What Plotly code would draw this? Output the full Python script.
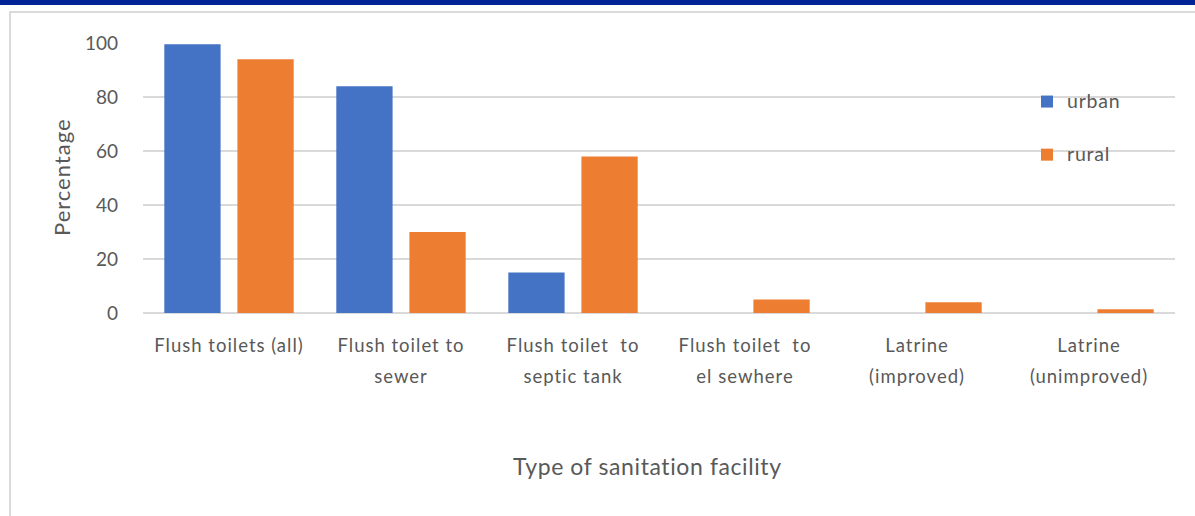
import plotly.graph_objects as go

# Share of households by type of sanitation facility
categories = [
    "Flush toilets (all)",
    "Flush toilet to<br>sewer",
    "Flush toilet  to<br>septic tank",
    "Flush toilet  to<br>el sewhere",
    "Latrine<br>(improved)",
    "Latrine<br>(unimproved)",
]
urban = [99.5, 84, 15, 0, 0, 0]
rural = [94, 30, 58, 5, 4, 1.4]
y_ticks = [0, 20, 40, 60, 80, 100]

W, H = 1195, 516
TEXT = "#595959"
FONT = "Lato"

# plot area in pixels
px_left, px_right, px_top, px_bottom = 143, 1175, 43, 313


def fx(px):
    return px / W


def fy(py):
    return 1 - py / H


def styled(t, size, spacing):
    return f"<span style='font-size:{size}px;letter-spacing:{spacing}px'>{t}</span>"


def label(t):
    # wrap each line so the text is small while the line pitch stays wide
    return "<br>".join(styled(p, 18.5, 1) for p in t.split("<br>"))


fig = go.Figure()
fig.add_trace(go.Bar(name=styled("urban", 19.5, 0.8), x=categories, y=urban,
                     marker_color="#4472C4", marker_line_width=0, legendgroup="u"))
fig.add_trace(go.Bar(name=styled("rural", 19.5, 0.8), x=categories, y=rural,
                     marker_color="#ED7D31", marker_line_width=0, legendgroup="r"))

fig.update_layout(
    width=W, height=H,
    margin=dict(l=0, r=0, t=0, b=0),
    paper_bgcolor="white", plot_bgcolor="white",
    font=dict(family=FONT, color=TEXT),
    barmode="group", bargap=0.15, bargroupgap=0.23,
    legend=dict(x=fx(1027), y=fy(84), xanchor="left", yanchor="top",
                bgcolor="rgba(0,0,0,0)", font=dict(size=17, color=TEXT),
                tracegroupgap=28, itemwidth=30),
    xaxis=dict(domain=[fx(px_left), fx(px_right)], automargin=False,
               tickmode="array", tickvals=categories,
               ticktext=[label(c) for c in categories],
               tickfont=dict(size=24, color=TEXT), ticklabelstandoff=14,
               showline=False, showgrid=False, ticks=""),
    yaxis=dict(domain=[fy(px_bottom), fy(px_top)], automargin=False,
               range=[0, 100], tickvals=y_ticks, showgrid=True,
               gridcolor="#D9D9D9", gridwidth=1.5, zeroline=True,
               zerolinecolor="#D9D9D9", zerolinewidth=1.5,
               tickfont=dict(size=19, color=TEXT), ticklabelstandoff=24),
    annotations=[
        dict(text=styled("Percentage", 22, 1), x=fx(62), y=fy(177),
             xref="paper", yref="paper", xanchor="center", yanchor="middle",
             textangle=-90, showarrow=False, font=dict(size=22, color=TEXT)),
        dict(text=styled("Type of sanitation facility", 23, 0.6), x=fx(647), y=fy(466),
             xref="paper", yref="paper", xanchor="center", yanchor="middle",
             showarrow=False, font=dict(size=23, color=TEXT)),
    ],
    shapes=[
        dict(type="rect", xref="paper", yref="paper", x0=0, x1=1,
             y0=fy(5), y1=1, fillcolor="#002395", line_width=0),
        dict(type="rect", xref="paper", yref="paper", x0=fx(10), x1=1.01,
             y0=-0.01, y1=fy(12), fillcolor="rgba(0,0,0,0)",
             line=dict(color="#D0D0D0", width=1.5)),
    ],
)

fig.write_html("out.html")
